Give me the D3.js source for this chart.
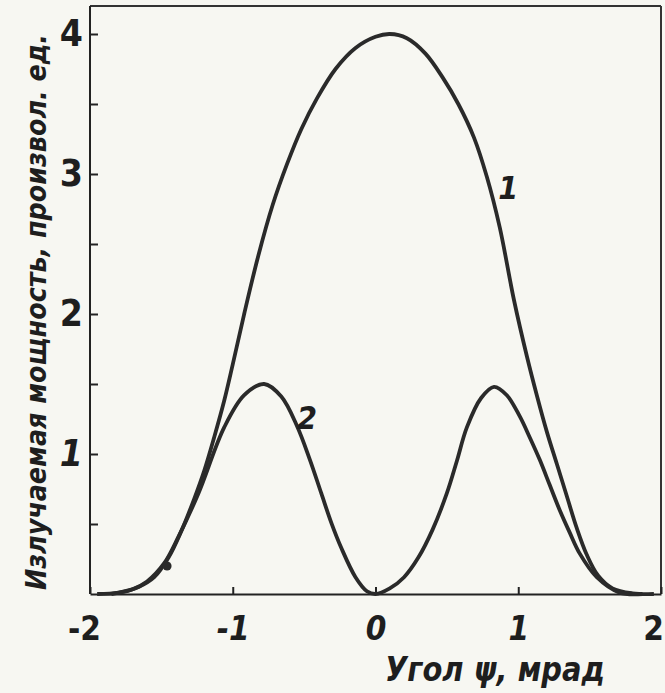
<html>
<head>
<meta charset="utf-8">
<script src="https://d3js.org/d3.v7.min.js"></script>
<style>
body {
  margin: 0;
  background: #f7f7f2;
}
svg {
  display: block;
  background: #f7f7f2;
}
text {
  font-family: "Liberation Sans Narrow", "DejaVu Sans Condensed", "Arial Narrow", sans-serif;
  font-weight: bold;
  fill: #1e1e1e;
}
.axis path, .axis line {
  stroke: #222;
  stroke-width: 2;
  fill: none;
}
.curve {
  fill: none;
  stroke: #2a2a2a;
  stroke-width: 3.8;
  stroke-linejoin: round;
}
</style>
</head>
<body>
<svg width="665" height="693"></svg>
<script>

// angle psi, mrad (x) and radiated power, arb. units (y)
var curve1X = [-1.95, -1.80, -1.66, -1.55, -1.45, -1.36, -1.27, -1.20, -1.13, -1.06, -1.00, -0.92, -0.82, -0.72, -0.62, -0.52, -0.41, -0.28, -0.14, 0.00, 0.10, 0.22, 0.35, 0.47, 0.58, 0.69, 0.78, 0.87, 0.97, 1.06, 1.13, 1.20, 1.27, 1.34, 1.41, 1.48, 1.56, 1.66, 1.80, 1.95];
var curve1Y = [0.0, 0.01, 0.05, 0.12, 0.26, 0.45, 0.68, 0.88, 1.12, 1.38, 1.64, 2.00, 2.42, 2.78, 3.07, 3.32, 3.54, 3.75, 3.90, 3.98, 4.00, 3.97, 3.86, 3.69, 3.50, 3.26, 2.98, 2.62, 2.10, 1.70, 1.42, 1.16, 0.93, 0.70, 0.47, 0.28, 0.13, 0.04, 0.005, 0.0];

var curve2X = [-1.85, -1.71, -1.60, -1.48, -1.38, -1.24, -1.06, -0.92, -0.78, -0.66, -0.55, -0.46, -0.38, -0.31, -0.24, -0.14, -0.06, 0.0, 0.10, 0.20, 0.30, 0.40, 0.50, 0.57, 0.64, 0.74, 0.83, 0.92, 1.01, 1.08, 1.15, 1.22, 1.29, 1.36, 1.43, 1.55, 1.71, 1.87];
var curve2Y = [0.0, 0.03, 0.09, 0.22, 0.41, 0.72, 1.19, 1.42, 1.50, 1.41, 1.20, 0.96, 0.72, 0.51, 0.33, 0.12, 0.02, 0.0, 0.04, 0.12, 0.26, 0.46, 0.72, 0.95, 1.19, 1.40, 1.48, 1.42, 1.27, 1.12, 0.96, 0.78, 0.60, 0.44, 0.29, 0.12, 0.01, 0.0];

var xTicks = [-2, -1, 0, 1, 2];
var yTicks = [0.5, 1, 1.5, 2, 2.5, 3, 3.5, 4];
var yLabels = [1, 2, 3, 4];

var markX = [-1.46];
var markY = [0.2];

var curveNames = ["1", "2"];
var curveNameX = [0.93, -0.48];
var curveNameY = [2.9, 1.26];

var xTitle = "Угол ψ, мрад";
var yTitle = "Излучаемая мощность, произвол. ед.";

var svg = d3.select("svg"),
    margin = {top: 6, right: 4, bottom: 99, left: 90},
    width = +svg.attr("width") - margin.left - margin.right,
    height = +svg.attr("height") - margin.top - margin.bottom;

var g = svg.append("g")
    .attr("transform", "translate(" + margin.left + "," + margin.top + ")");

var x = d3.scaleLinear()
    .domain([-2, 2])
    .range([0, width]);

var y = d3.scaleLinear()
    .domain([0, 4.2])
    .range([height, 0]);

// frame (top and right)
g.append("line")
    .attr("x1", x(-2)).attr("x2", x(2))
    .attr("y1", y(4.2)).attr("y2", y(4.2))
    .attr("stroke", "#333").attr("stroke-width", 2);
g.append("line")
    .attr("x1", x(2)).attr("x2", x(2))
    .attr("y1", y(4.2)).attr("y2", y(0))
    .attr("stroke", "#333").attr("stroke-width", 2);

var italicX = {"-1": true, "0": true, "1": true};
var shiftX = {"-2": -6, "2": -8};

var xAxis = g.append("g")
    .attr("class", "axis")
    .attr("transform", "translate(0," + height + ")")
    .call(d3.axisBottom(x)
        .tickValues(xTicks)
        .tickSize(-7)
        .tickSizeOuter(0)
        .tickPadding(23)
        .tickFormat(d3.format("d")));

xAxis.selectAll("text")
    .attr("font-size", 33)
    .attr("dx", d => shiftX[d] || 0)
    .style("font-style", d => italicX[d] ? "italic" : "normal")
    .text(d => d < 0 ? "-" + Math.abs(d) : d);

var yAxis = g.append("g")
    .attr("class", "axis")
    .call(d3.axisLeft(y)
        .tickValues(yTicks)
        .tickSize(-8)
        .tickSizeOuter(0)
        .tickPadding(7)
        .tickFormat(d => yLabels.indexOf(d) >= 0 ? d : ""));

yAxis.selectAll("text")
    .attr("font-size", 37)
    .style("font-style", d => d === 1 ? "italic" : "normal");

yAxis.select(".domain")
    .attr("d", "M0," + y(0) + "V" + y(4.2));

// curves
var line = d3.line()
    .x(d => x(d[0]))
    .y(d => y(d[1]))
    .curve(d3.curveCatmullRom.alpha(0.5));

var series = [
    d3.zip(curve1X, curve1Y),
    d3.zip(curve2X, curve2Y)
];

g.selectAll(".curve")
    .data(series)
  .enter().append("path")
    .attr("class", "curve")
    .attr("d", line);

g.selectAll(".mark")
    .data(d3.zip(markX, markY))
  .enter().append("circle")
    .attr("class", "mark")
    .attr("cx", d => x(d[0]))
    .attr("cy", d => y(d[1]))
    .attr("r", 4.5)
    .attr("fill", "#2a2a2a");

g.selectAll(".curve-name")
    .data(curveNames)
  .enter().append("text")
    .attr("class", "curve-name")
    .attr("x", (d, i) => x(curveNameX[i]))
    .attr("y", (d, i) => y(curveNameY[i]))
    .attr("text-anchor", "middle")
    .attr("dy", "0.35em")
    .attr("font-size", 32)
    .style("font-style", "italic")
    .text(d => d);

// axis titles
svg.append("text")
    .attr("x", 495)
    .attr("y", 681)
    .attr("text-anchor", "middle")
    .attr("font-size", 34)
    .attr("textLength", 220)
    .attr("lengthAdjust", "spacingAndGlyphs")
    .style("font-style", "italic")
    .text(xTitle);

svg.append("text")
    .attr("transform", "translate(46," + 312 + ") rotate(-90)")
    .attr("text-anchor", "middle")
    .attr("font-size", 28)
    .attr("textLength", 556)
    .attr("lengthAdjust", "spacingAndGlyphs")
    .style("font-style", "italic")
    .text(yTitle);

</script>
</body>
</html>
